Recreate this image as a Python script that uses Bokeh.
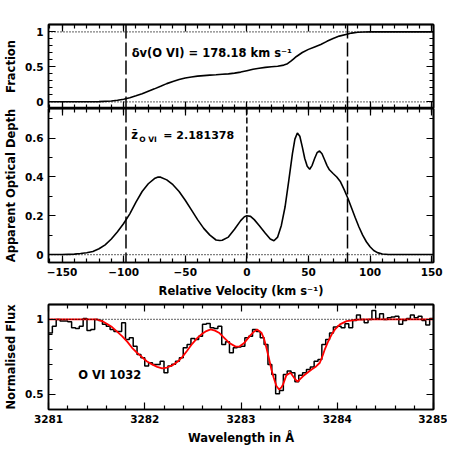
import numpy as np
from bokeh.plotting import figure
from bokeh.models import LinearAxis, Range1d, Span, Label, FixedTicker
from bokeh.layouts import column
from bokeh.embed import file_html
from bokeh.resources import INLINE

# ---------------- data ----------------
# apparent optical depth profile (velocity km/s, tau)
aod_v = [-161, -150, -145, -140, -135, -130, -125, -120, -115, -110, -105, -100, -95, -90, -85,
         -80, -75, -72, -70, -65, -60, -55, -50, -45, -40, -35, -30, -25, -22, -20, -15, -10,
         -5, -2, 0, 3, 6, 10, 15, 19, 22, 25, 28, 31, 34, 37, 39, 41, 43, 45, 47, 49, 51, 53,
         55, 57, 59, 61, 63, 65, 67, 70, 73, 76, 79, 82, 85, 88, 91, 94, 97, 100, 103, 106,
         110, 115, 151.5]
aod_tau = [0.0, 0.0, 0.001, 0.002, 0.005, 0.009, 0.016, 0.03, 0.05, 0.08, 0.118, 0.16, 0.21,
           0.27, 0.325, 0.365, 0.392, 0.4, 0.399, 0.385, 0.36, 0.325, 0.28, 0.23, 0.18, 0.135,
           0.1, 0.075, 0.072, 0.074, 0.09, 0.13, 0.175, 0.195, 0.2, 0.197, 0.18, 0.15, 0.11,
           0.08, 0.071, 0.09, 0.15, 0.245, 0.38, 0.52, 0.595, 0.627, 0.61, 0.555, 0.495, 0.455,
           0.44, 0.46, 0.495, 0.525, 0.534, 0.52, 0.49, 0.46, 0.437, 0.418, 0.4, 0.375, 0.335,
           0.29, 0.24, 0.19, 0.142, 0.1, 0.066, 0.04, 0.021, 0.01, 0.003, 0.0, 0.0]

# cumulative fraction of the optical depth
frac_v = [-161, -130, -120, -110, -105, -100, -95, -90, -85, -80, -75, -70, -65, -60, -55, -50,
          -45, -40, -35, -30, -25, -20, -15, -10, -5, 0, 5, 10, 15, 20, 25, 30, 33, 36, 38, 40,
          45, 50, 55, 60, 65, 70, 75, 82, 85, 90, 95, 100, 151.5]
frac_f = [0.0, 0.0, 0.002, 0.012, 0.022, 0.037, 0.058, 0.085, 0.115, 0.15, 0.185, 0.222, 0.26,
          0.29, 0.318, 0.34, 0.355, 0.367, 0.375, 0.381, 0.386, 0.393, 0.4, 0.41, 0.425, 0.445,
          0.465, 0.48, 0.492, 0.502, 0.508, 0.525, 0.545, 0.585, 0.615, 0.645, 0.705, 0.75,
          0.785, 0.82, 0.865, 0.905, 0.94, 0.97, 0.983, 0.995, 0.999, 1.0, 1.0]

v_lim_low = -98.1
v_lim_high = 81.7
v_zero = 0.0

# spectrum: left edge, pixel width, normalised flux per pixel
wave_start = 3281.0
wave_step = 0.04
flux = [0.91, 0.955, 1.0, 0.99, 0.99, 0.985, 0.944, 0.94, 0.955, 1.007,
        0.926, 0.933, 1.0, 0.993, 0.967, 0.955, 0.933, 0.92, 0.92, 0.978,
        0.866, 0.877, 0.82, 0.766, 0.743, 0.6875, 0.71, 0.699, 0.699, 0.72,
        0.643, 0.6875, 0.70, 0.72, 0.743, 0.81, 0.833, 0.873, 0.866, 0.888,
        0.967, 0.973, 0.944, 0.94, 0.955, 0.833, 0.85, 0.777, 0.81, 0.815,
        0.82, 0.877, 0.888, 0.933, 0.92, 0.877, 0.833, 0.699, 0.632, 0.502,
        0.525, 0.632, 0.654, 0.643, 0.583, 0.627, 0.643, 0.665, 0.681, 0.72,
        0.732, 0.833, 0.866, 0.91, 0.949, 0.955, 0.944, 0.971, 0.944, 0.993,
        1.029, 1.0, 0.978, 1.0, 1.06, 1.007, 1.038, 1.0, 1.011, 1.016,
        1.022, 0.967, 0.993, 1.007, 1.029, 1.011, 1.022, 0.993, 0.962, 1.007]

# fitted model (red)
model_w = [3281.0, 3281.5, 3281.556, 3281.61, 3281.66, 3281.71, 3281.764, 3281.82, 3281.868,
           3281.92, 3281.972, 3282.02, 3282.076, 3282.13, 3282.18, 3282.23, 3282.285, 3282.34,
           3282.389, 3282.44, 3282.493, 3282.545, 3282.597, 3282.64, 3282.684, 3282.73,
           3282.771, 3282.82, 3282.875, 3282.944, 3282.986, 3283.03, 3283.09, 3283.13,
           3283.167, 3283.212, 3283.24, 3283.264, 3283.29, 3283.316, 3283.34, 3283.368,
           3283.396, 3283.42, 3283.437, 3283.472, 3283.514, 3283.552, 3283.587, 3283.646,
           3283.733, 3283.78, 3283.819, 3283.85, 3283.871, 3283.9, 3283.924, 3283.95,
           3283.976, 3284.028, 3284.097, 3284.2, 3284.3, 3285.0]
model_f = [1.0, 1.0, 0.989, 0.97, 0.949, 0.92, 0.888, 0.85, 0.81, 0.777, 0.748, 0.72, 0.699,
           0.682, 0.672, 0.678, 0.692, 0.716, 0.748, 0.79, 0.837, 0.875, 0.904, 0.922, 0.933,
           0.925, 0.911, 0.88, 0.844, 0.818, 0.82, 0.84, 0.888, 0.915, 0.933, 0.911, 0.87,
           0.81, 0.74, 0.665, 0.61, 0.554, 0.531, 0.545, 0.565, 0.627, 0.643, 0.609, 0.583,
           0.621, 0.665, 0.685, 0.71, 0.76, 0.8, 0.845, 0.877, 0.908, 0.933, 0.967, 0.989,
           0.998, 1.0, 1.0]

vel_ticks = [-150, -100, -50, 0, 50, 100, 150]
vel_minor = list(range(-160, 151, 10))
vel_tick_labels = ["\u2212150", "\u2212100", "\u221250", "0", "50", "100", "150"]
frac_ticks = [0, 0.5, 1]
frac_minor = [-0.1, 0.1, 0.2, 0.3, 0.4, 0.6, 0.7, 0.8, 0.9, 1.1]
frac_tick_labels = ["0", "0.5", "1"]
aod_ticks = [0, 0.2, 0.4, 0.6]
aod_minor = [0.1, 0.3, 0.5, 0.7]
aod_tick_labels = ["0", "0.2", "0.4", "0.6"]
wave_ticks = [3281, 3282, 3283, 3284, 3285]
wave_minor = [round(3281 + 0.2 * i, 1) for i in range(0, 21) if i % 5]
wave_tick_labels = ["3281", "3282", "3283", "3284", "3285"]
flux_ticks = [0.5, 1.0]
flux_minor = [0.4, 0.6, 0.7, 0.8, 0.9, 1.1]
flux_tick_labels = ["0.5", "1"]

FONT = "DejaVu Sans"
TICK_FS = "10.5px"
LAB_FS = "11.5px"
LW = 1.5
DOT = dict(line_color="black", line_width=1.3, line_dash="1 2")


def style_axis(ax):
    ax.axis_line_width = LW
    ax.axis_line_color = "black"
    ax.major_tick_in = 7
    ax.major_tick_out = 0
    ax.minor_tick_in = 4
    ax.minor_tick_out = 0
    ax.major_tick_line_width = 1.2
    ax.minor_tick_line_width = 1.2
    ax.major_tick_line_color = "black"
    ax.minor_tick_line_color = "black"


def labelled_axis(p, side, ticks, minor, labels, title):
    ax = LinearAxis(ticker=FixedTicker(ticks=ticks, minor_ticks=minor))
    style_axis(ax)
    ax.major_label_text_font = FONT
    ax.major_label_text_font_size = TICK_FS
    ax.major_label_text_font_style = "bold"
    ax.major_label_text_color = "black"
    ax.major_label_standoff = 5
    ax.major_label_overrides = dict(zip(ticks, labels))
    ax.axis_label = title
    ax.axis_label_text_font = FONT
    ax.axis_label_text_font_size = LAB_FS
    ax.axis_label_text_font_style = "bold"
    ax.axis_label_text_color = "black"
    ax.axis_label_standoff = 4 if side == "left" else 5
    p.add_layout(ax, side)


def tick_only_axis(p, side, ticks, minor):
    # two unlabeled axes: one carrying the long ticks, one the short ones
    for tk, length in ((ticks, 7), (minor, 4)):
        ax = LinearAxis(ticker=FixedTicker(ticks=[], minor_ticks=tk))
        style_axis(ax)
        ax.minor_tick_in = length
        ax.major_label_standoff = 0
        ax.axis_label_standoff = 0
        p.add_layout(ax, side)


def base_fig(xr, yr, fh, top, bottom):
    p = figure(frame_width=385, frame_height=fh, x_range=xr, y_range=yr,
               x_axis_location=None, y_axis_location=None, toolbar_location=None,
               output_backend="svg", min_border_left=41, min_border_right=14,
               min_border_top=top, min_border_bottom=bottom)
    p.grid.grid_line_color = None
    p.outline_line_color = "black"
    p.outline_line_width = LW
    p.background_fill_color = "white"
    p.border_fill_color = "white"
    return p


def text_label(p, x, y, txt, size=LAB_FS, dx=0, dy=0):
    p.add_layout(Label(x=x, y=y, x_offset=dx, y_offset=dy, text=txt, text_font=FONT,
                       text_font_size=size, text_font_style="bold",
                       text_baseline="middle", text_color="black"))


vel_range = Range1d(-161.0, 151.5)

# ---------------- top panel: fraction ----------------
p1 = base_fig(vel_range, Range1d(-0.096, 1.106), 84, 24, 0)
labelled_axis(p1, "left", frac_ticks, frac_minor, frac_tick_labels, "Fraction")
tick_only_axis(p1, "right", frac_ticks, frac_minor)
tick_only_axis(p1, "below", vel_ticks, vel_minor)
tick_only_axis(p1, "above", vel_ticks, vel_minor)
for yv in (0, 1):
    p1.add_layout(Span(location=yv, dimension="width", **DOT))
for xv in (v_lim_low, v_lim_high):
    p1.add_layout(Span(location=xv, dimension="height", line_color="black", line_width=1.5,
                       line_dash="14 4"))
p1.line(frac_v, frac_f, line_color="black", line_width=1.6)
text_label(p1, -93.5, 0.705, "\u03b4v(O VI) = 178.18 km s\u207b\u00b9")

# ---------------- middle panel: AOD ----------------
p2 = base_fig(vel_range, Range1d(-0.041, 0.753), 154, 0, 39)
labelled_axis(p2, "left", aod_ticks, aod_minor, aod_tick_labels, "Apparent Optical Depth")
tick_only_axis(p2, "right", aod_ticks, aod_minor)
labelled_axis(p2, "below", vel_ticks, vel_minor, vel_tick_labels,
              "Relative Velocity (km s\u207b\u00b9)")
tick_only_axis(p2, "above", vel_ticks, vel_minor)
p2.add_layout(Span(location=0, dimension="width", **DOT))
for xv in (v_lim_low, v_lim_high):
    p2.add_layout(Span(location=xv, dimension="height", line_color="black", line_width=1.5,
                       line_dash="14 4"))
p2.add_layout(Span(location=v_zero, dimension="height", line_color="black", line_width=1.5,
                   line_dash="6 3"))
p2.line(aod_v, aod_tau, line_color="black", line_width=1.6)
text_label(p2, -93.8, 0.615, "z\u0304")
text_label(p2, -93.8, 0.615, "O VI", size="7.5px", dx=8, dy=-4)
text_label(p2, -93.8, 0.615, "= 2.181378", size="11px", dx=32)

# ---------------- bottom panel: spectrum ----------------
p3 = base_fig(Range1d(3281.0, 3285.0), Range1d(0.397, 1.1), 105, 3, 0)
labelled_axis(p3, "left", flux_ticks, flux_minor, flux_tick_labels, "Normalised Flux")
tick_only_axis(p3, "right", flux_ticks, flux_minor)
labelled_axis(p3, "below", wave_ticks, wave_minor, wave_tick_labels, "Wavelength in \u00c5")
tick_only_axis(p3, "above", wave_ticks, wave_minor)
p3.add_layout(Span(location=1, dimension="width", **DOT))
edges = wave_start + wave_step * np.arange(len(flux) + 1)
step_y = list(flux) + [flux[-1]]
p3.step(edges, step_y, mode="after", line_color="black", line_width=1.5)
p3.line(model_w, model_f, line_color="#ff0000", line_width=1.8)
text_label(p3, 3281.31, 0.625, "O VI 1032")

layout = column(p1, p2, p3, spacing=0)
open("out.html", "w").write(file_html(layout, INLINE))
